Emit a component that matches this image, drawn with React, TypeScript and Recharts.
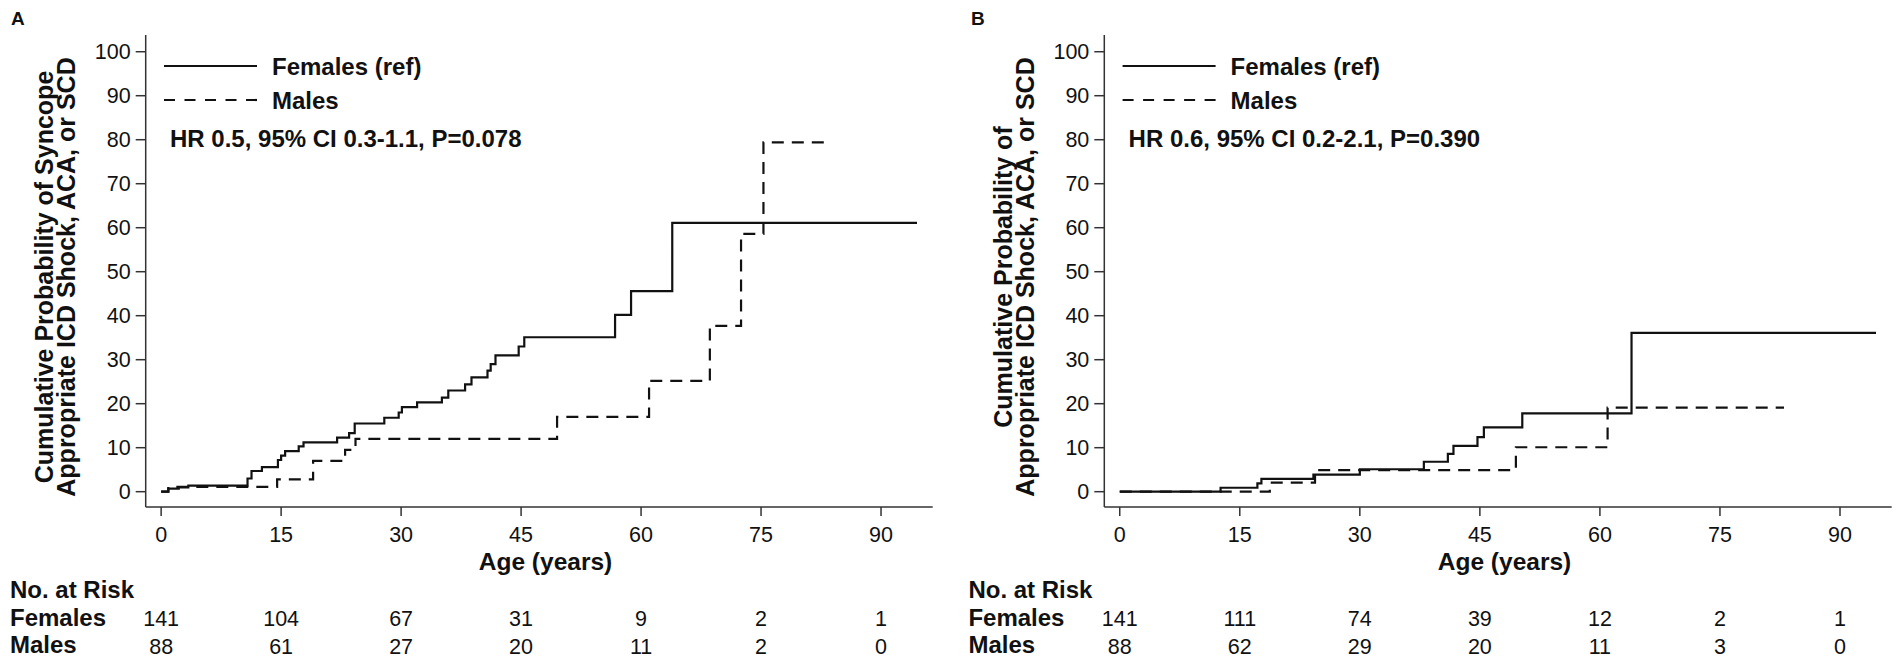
import React from 'react';
import { LineChart, Line, XAxis, YAxis } from 'recharts';

// ---------- data ----------
const yearTicks = [0, 15, 30, 45, 60, 75, 90];
const probTicks = [0, 10, 20, 30, 40, 50, 60, 70, 80, 90, 100];

// Panel A
const femalesA_age = [0, 0.9, 2.2, 3.4, 10.8, 11.3, 12.6, 14.6, 15.0, 15.5, 17.2, 17.8, 22.0, 23.5, 24.2, 27.9, 29.7, 30.1, 32.0, 35.1, 35.9, 38.0, 38.8, 40.8, 41.2, 41.8, 44.7, 45.4, 56.75, 58.75, 63.9, 94.5];
const femalesA_prob = [0, 0.7, 1.0, 1.4, 3.0, 4.7, 5.6, 7.2, 8.2, 9.2, 10.3, 11.2, 12.3, 13.3, 15.5, 16.8, 18.0, 19.2, 20.3, 21.4, 23.0, 24.4, 26.0, 27.5, 29.0, 31.0, 33.0, 35.1, 40.2, 45.6, 61.1, 61.1];
const malesA_age = [0, 0.9, 14.5, 19.0, 23.0, 24.3, 49.5, 61.0, 68.6, 72.5, 75.3, 83.0];
const malesA_prob = [0, 1.1, 2.8, 7.0, 9.5, 12.0, 17.0, 25.2, 37.7, 58.6, 79.4, 79.4];
const atRiskFemalesA = [141, 104, 67, 31, 9, 2, 1];
const atRiskMalesA = [88, 61, 27, 20, 11, 2, 0];

// Panel B
const femalesB_age = [0, 12.6, 17.2, 17.7, 24.2, 30.0, 38.0, 41.0, 41.7, 44.7, 45.5, 50.3, 63.95, 94.5];
const femalesB_prob = [0, 0.9, 1.9, 2.9, 3.9, 5.1, 6.8, 8.6, 10.4, 12.4, 14.6, 17.8, 36.1, 36.1];
const malesB_age = [0, 18.75, 24.4, 49.5, 60.96, 83.0];
const malesB_prob = [0, 2.05, 4.9, 10.1, 19.1, 19.1];
const atRiskFemalesB = [141, 111, 74, 39, 12, 2, 1];
const atRiskMalesB = [88, 62, 29, 20, 11, 3, 0];

const legendLabels = ['Females (ref)', 'Males'];
const riskRowLabels = ['No. at Risk', 'Females', 'Males'];
const xLabel = 'Age (years)';

const toPoints = (xs: number[], ys: number[]) => xs.map((x, i) => ({ x, y: ys[i] }));

// ---------- styles ----------
const FONT = '"Liberation Sans", Arial, Helvetica, sans-serif';
const INK = '#111';
const X_DOMAIN: [number, number] = [-1.93, 96.46];
const Y_DOMAIN: [number, number] = [-3.48, 103.8];

type PanelProps = {
  left: number;
  marginLeft: number;
  marginRight: number;
  fem: { x: number; y: number }[];
  male: { x: number; y: number }[];
  riskF: number[];
  riskM: number[];
};

function Panel({ left, marginLeft, marginRight, fem, male, riskF, riskM }: PanelProps) {
  const tickStyle = { fontSize: 21.5, fill: INK };
  return (
    <div style={{ position: 'absolute', left, top: 0 }}>
      <LineChart width={950} height={662} margin={{ top: 35, right: marginRight, bottom: 2, left: marginLeft }}>
        <XAxis
          xAxisId="axis1main"
          type="number"
          dataKey="x"
          domain={X_DOMAIN}
          allowDataOverflow
          ticks={yearTicks}
          interval={0}
          tickSize={9}
          tickMargin={10.4}
          height={97}
          stroke="#333"
          strokeWidth={1.5}
          tick={tickStyle}
        />
        <XAxis
          xAxisId="axis2fem"
          type="number"
          dataKey="x"
          domain={X_DOMAIN}
          allowDataOverflow
          ticks={yearTicks}
          interval={0}
          axisLine={false}
          tickLine={false}
          tickSize={0}
          tickMargin={6.7}
          height={28}
          tick={tickStyle}
          tickFormatter={(v: number) => String(riskF[yearTicks.indexOf(v)])}
        />
        <XAxis
          xAxisId="axis3male"
          type="number"
          dataKey="x"
          domain={X_DOMAIN}
          allowDataOverflow
          ticks={yearTicks}
          interval={0}
          axisLine={false}
          tickLine={false}
          tickSize={0}
          tickMargin={6.7}
          height={28}
          tick={tickStyle}
          tickFormatter={(v: number) => String(riskM[yearTicks.indexOf(v)])}
        />
        <YAxis
          yAxisId="p"
          type="number"
          domain={Y_DOMAIN}
          allowDataOverflow
          ticks={probTicks}
          interval={0}
          width={60}
          tickSize={10}
          tickMargin={5}
          stroke="#333"
          strokeWidth={1.5}
          tick={tickStyle}
        />
        <Line
          xAxisId="axis1main"
          yAxisId="p"
          data={male}
          dataKey="y"
          type="stepAfter"
          stroke={INK}
          strokeWidth={2.2}
          strokeDasharray="12 8"
          dot={false}
          activeDot={false}
          isAnimationActive={false}
        />
        <Line
          xAxisId="axis1main"
          yAxisId="p"
          data={fem}
          dataKey="y"
          type="stepAfter"
          stroke={INK}
          strokeWidth={2.2}
          dot={false}
          activeDot={false}
          isAnimationActive={false}
        />
      </LineChart>
    </div>
  );
}

type AnnoProps = {
  axisX: number;
  letter: string;
  letterX: number;
  yLabel: string[];
  hr: string;
  ageX: number;
  riskX: number;
};

function Annotations({ axisX, letter, letterX, yLabel, hr, ageX, riskX }: AnnoProps) {
  const yMid = 277;
  return (
    <g>
      <text x={letterX} y={25} fontSize={19} fontWeight="bold">{letter}</text>
      {/* legend */}
      <line x1={axisX + 18.3} x2={axisX + 111.3} y1={66} y2={66} stroke={INK} strokeWidth={2.2} />
      <line x1={axisX + 18.3} x2={axisX + 111.3} y1={100} y2={100} stroke={INK} strokeWidth={2.2} strokeDasharray="11 9.5" />
      <text x={axisX + 126.3} y={75} fontSize={24} fontWeight="bold">{legendLabels[0]}</text>
      <text x={axisX + 126.3} y={109.3} fontSize={24} fontWeight="bold">{legendLabels[1]}</text>
      <text x={axisX + 24.3} y={147} fontSize={24} fontWeight="bold">{hr}</text>
      {/* y label */}
      <text transform={`translate(${axisX - 92.4},${yMid}) rotate(-90)`} textAnchor="middle" fontSize={25} fontWeight="bold">{yLabel[0]}</text>
      <text transform={`translate(${axisX - 70.7},${yMid}) rotate(-90)`} textAnchor="middle" fontSize={25} fontWeight="bold">{yLabel[1]}</text>
      {/* x label */}
      <text x={ageX} y={570} textAnchor="middle" fontSize={24.5} fontWeight="bold">{xLabel}</text>
      {/* risk table labels */}
      <text x={riskX} y={598} fontSize={24} fontWeight="bold">{riskRowLabels[0]}</text>
      <text x={riskX} y={626} fontSize={24} fontWeight="bold">{riskRowLabels[1]}</text>
      <text x={riskX} y={653.3} fontSize={24} fontWeight="bold">{riskRowLabels[2]}</text>
    </g>
  );
}

export default function App() {
  return (
    <div style={{ position: 'absolute', left: 0, top: 0, width: 1900, height: 662, background: '#fff', fontFamily: FONT, color: INK }}>
      <Panel
        left={0}
        marginLeft={85.7}
        marginRight={17.3}
        fem={toPoints(femalesA_age, femalesA_prob)}
        male={toPoints(malesA_age, malesA_prob)}
        riskF={atRiskFemalesA}
        riskM={atRiskMalesA}
      />
      <Panel
        left={950}
        marginLeft={94.3}
        marginRight={8.3}
        fem={toPoints(femalesB_age, femalesB_prob)}
        male={toPoints(malesB_age, malesB_prob)}
        riskF={atRiskFemalesB}
        riskM={atRiskMalesB}
      />
      <svg width={1900} height={662} style={{ position: 'absolute', left: 0, top: 0, pointerEvents: 'none' }} fontFamily={FONT} fill={INK}>
        <Annotations
          axisX={145.7}
          letter="A"
          letterX={11}
          yLabel={['Cumulative Probability of Syncope', 'Appropriate ICD Shock, ACA, or SCD']}
          hr="HR 0.5, 95% CI 0.3-1.1, P=0.078"
          ageX={545.5}
          riskX={10}
        />
        <Annotations
          axisX={1104.3}
          letter="B"
          letterX={971}
          yLabel={['Cumulative Probability of', 'Appropriate ICD Shock, ACA, or SCD']}
          hr="HR 0.6, 95% CI 0.2-2.1, P=0.390"
          ageX={1504.5}
          riskX={968.4}
        />
      </svg>
    </div>
  );
}
